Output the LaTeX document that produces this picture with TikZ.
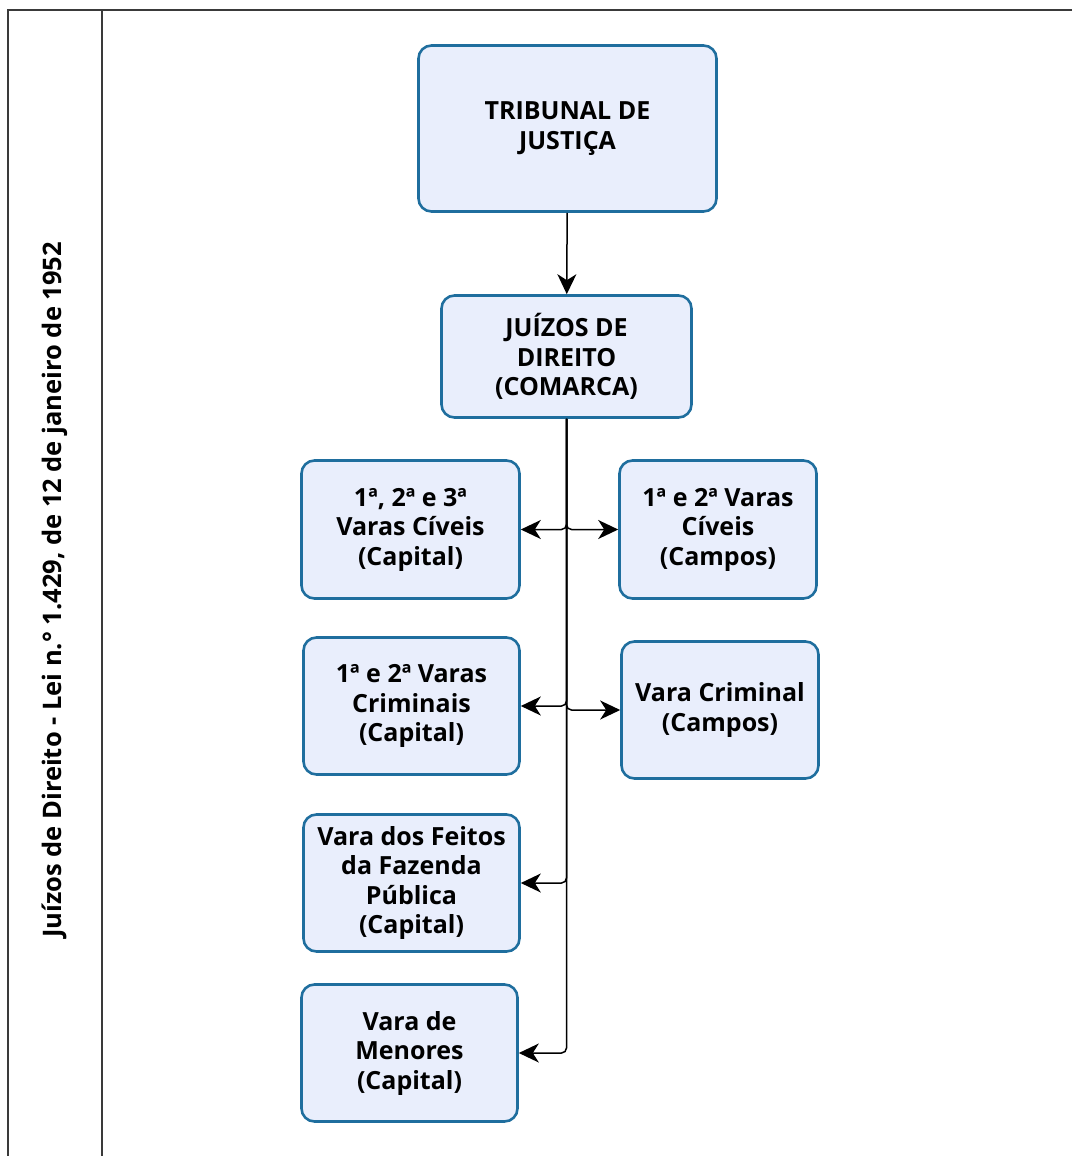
\documentclass[tikz,border=0pt]{standalone}
\usepackage{fontspec}
\setmainfont{Open Sans}
\usetikzlibrary{arrows.meta}
\definecolor{boxfill}{HTML}{E9EEFC}
\definecolor{boxline}{HTML}{1F6E9E}
\definecolor{frameline}{HTML}{3A3A3A}

\begin{document}
\begin{tikzpicture}[x=1pt,y=-1pt,
	unit/.style={draw=boxline, fill=boxfill, line width=2.6pt, rounded corners=13pt,
		align=center, inner sep=0pt, font=\bfseries\fontsize{25}{29.5}\selectfont},
	tip/.style={-{Stealth[length=20pt,width=19pt,inset=6pt]}},
	elbow/.style={tip, to path={|- (\tikztotarget)}},
	link/.style={line width=1.5pt, rounded corners=5pt},
	frame/.style={draw=frameline, line width=2pt}]
			\useasboundingbox (0,0) rectangle (1072,1156);
			\draw[frame] (1072,10) -- (8,10) -- (8,1156);
			\draw[frame] (102,10) -- (102,1156);
			\node[rotate=90, font=\bfseries\fontsize{25.5}{29}\selectfont] (lei) at (55,590) {Juízos de Direito - Lei n.° 1.429, de 12 de janeiro de 1952};

			\node	(tj) at (567.5,128.5) [unit, minimum width=298pt, minimum height=166pt] {TRIBUNAL DE\\JUSTIÇA};
			\node	(juizos) at (566.5,356.5) [unit, minimum width=250pt, minimum height=122pt] {JUÍZOS DE\\DIREITO\\(COMARCA)};
			\node	(civcap) at (410.5,529.5) [unit, minimum width=218pt, minimum height=138pt] {1ª, 2ª e 3ª\\Varas Cíveis\\(Capital)};
			\node	(civcam) at (718,529.5) [unit, minimum width=197pt, minimum height=138pt] {1ª e 2ª Varas\\Cíveis\\(Campos)};
			\node	(crimcap) at (411.5,706) [unit, minimum width=216pt, minimum height=137pt] {1ª e 2ª Varas\\Criminais\\(Capital)};
			\node	(crimcam) at (720,710) [unit, minimum width=197pt, minimum height=137pt] {Vara Criminal\\(Campos)};
			\node	(fazenda) at (411.5,883) [unit, minimum width=216pt, minimum height=137pt] {Vara dos Feitos\\da Fazenda\\Pública\\(Capital)};
			\node	(menores) at (409.5,1053) [unit, minimum width=216pt, minimum height=137pt] {Vara de\\Menores\\(Capital)};

			\draw[link]
			(tj) edge[tip] (juizos)
			(juizos.south) edge[elbow] (civcap.east)
			(juizos.south) edge[elbow] (civcam.west)
			(juizos.south) edge[elbow] (crimcap.east)
			(juizos.south) edge[elbow] (crimcam.west)
			(juizos.south) edge[elbow] (fazenda.east)
			(juizos.south) edge[elbow] (menores.east)
			;
		\end{tikzpicture}
\end{document}
